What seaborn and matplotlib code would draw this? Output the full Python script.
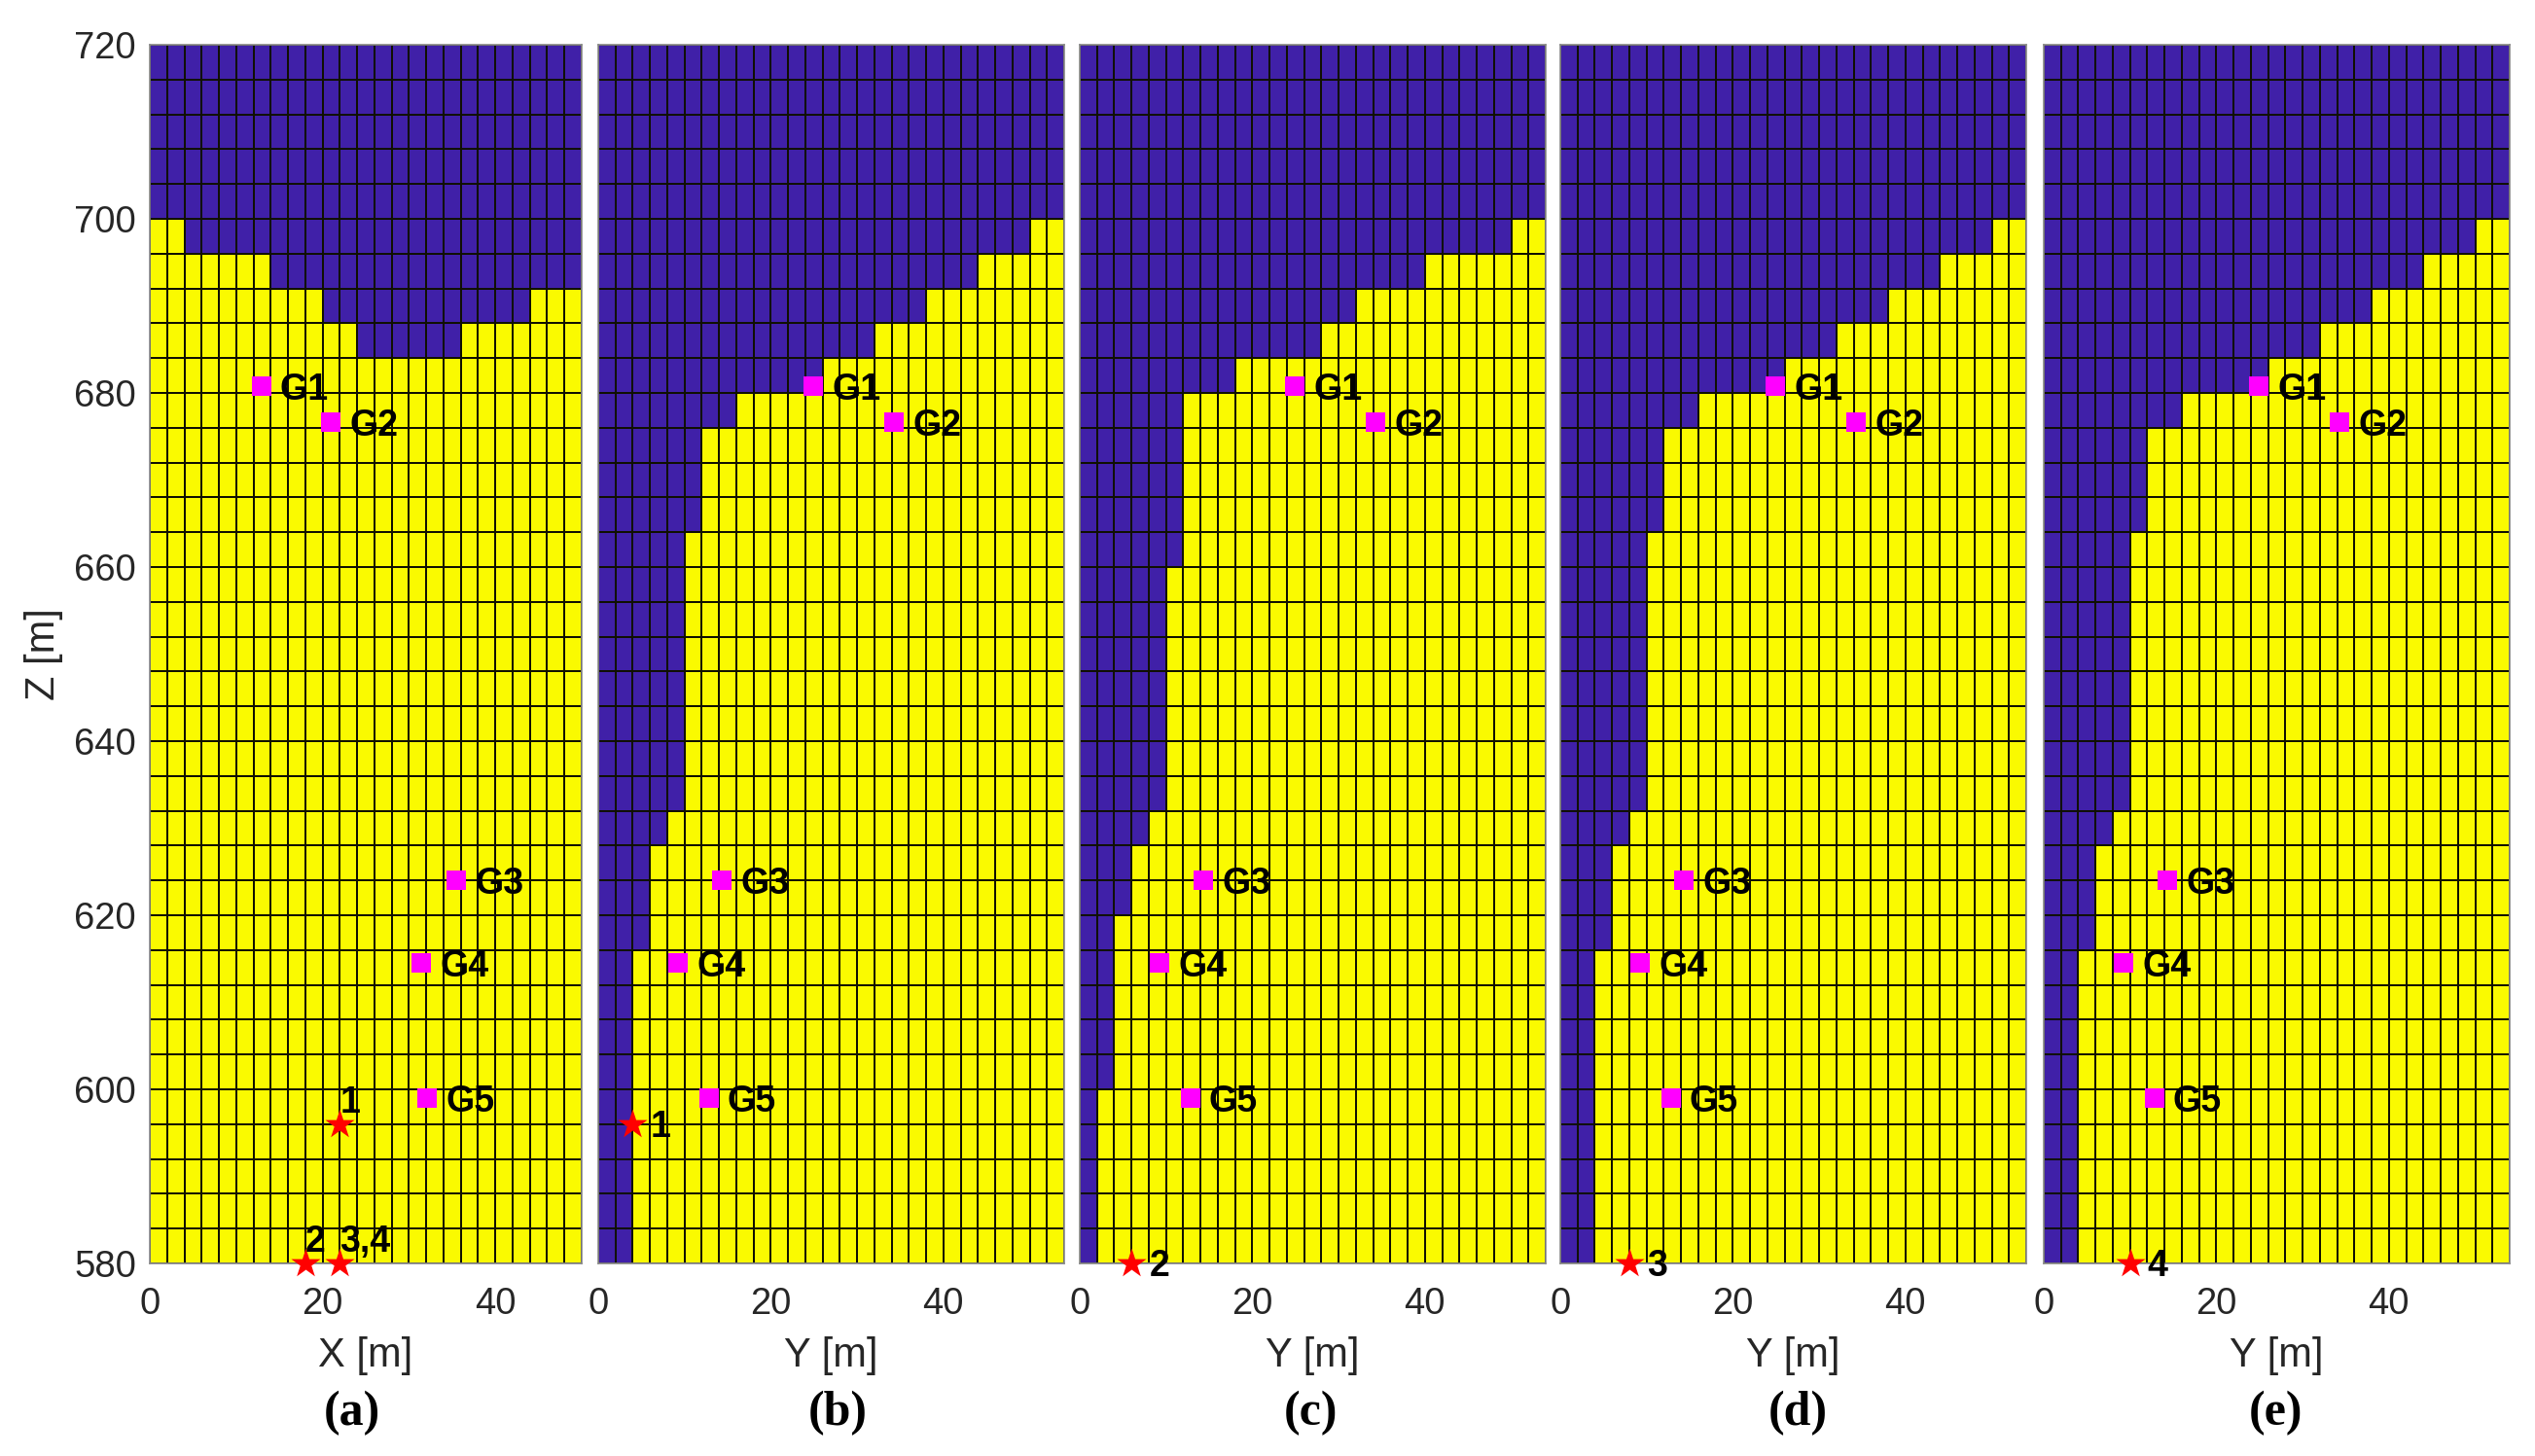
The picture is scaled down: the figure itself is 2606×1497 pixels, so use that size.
import numpy as np
import pandas as pd
import matplotlib
matplotlib.use("Agg")
import matplotlib.pyplot as plt
from matplotlib.colors import ListedColormap
import seaborn as sns

sns.set_style("white")
plt.rcParams['font.family'] = ['Liberation Sans', 'DejaVu Sans']

W, H = 2606, 1497
DX, DZ, ZTOP, ZBOT = 2, 4, 720, 580
BLUE, YELLOW, MAGENTA, RED = "#4020A8", "#FAFA00", "#FF00FF", "#FF0000"

# Top of the yellow medium (Z, m) for every 2 m column
top_a = [700]*2 + [696]*5 + [692]*3 + [688]*2 + [684]*6 + [688]*4 + [692]*3
top_b = [580]*2 + [616, 628, 632, 664] + [676]*2 + [680]*5 + [684]*3 + [688]*3 + [692]*3 + [696]*3 + [700]*2
top_c = [580, 600, 620, 628, 632, 660] + [680]*3 + [684]*5 + [688]*2 + [692]*4 + [696]*5 + [700]*2
top_d = [580]*2 + [616, 628, 632, 664] + [676]*2 + [680]*5 + [684]*3 + [688]*3 + [692]*3 + [696]*3 + [700]*2
top_e = [580]*2 + [616, 628, 632, 664] + [676]*2 + [680]*5 + [684]*3 + [688]*3 + [692]*3 + [696]*3 + [700]*2

geo_names = ["G1", "G2", "G3", "G4", "G5"]
geo_x = [12.9, 20.9, 35.5, 31.4, 32.1]
geo_y = [24.9, 34.3, 14.3, 9.3, 12.8]
geo_z = [680.8, 676.7, 624.0, 614.5, 599.0]

# sources per panel: (horizontal, Z, label, label offset in points)
src_a = [(22, 596, "1", (0, 15.5)), (18, 580, "2", (0, 15.5)), (22, 580, "3,4", (0, 15.5))]
src_b = [(4, 596, "1", (13, -2)) ]
src_c = [(6, 580, "2", (13, -2))]
src_d = [(8, 580, "3", (13, -2))]
src_e = [(10, 580, "4", (13, -2))]

panels = [
    (top_a, geo_x, src_a, "X [m]", "(a)", 154, 598, 362),
    (top_b, geo_y, src_b, "Y [m]", "(b)", 615, 1094, 861),
    (top_c, geo_y, src_c, "Y [m]", "(c)", 1110, 1589, 1348),
    (top_d, geo_y, src_d, "Y [m]", "(d)", 1604, 2083, 1848),
    (top_e, geo_y, src_e, "Y [m]", "(e)", 2101, 2580, 2340),
]
AX_TOP, AX_BOT = 46, 1299
xticks_m = [0, 20, 40]
zticks_m = [720, 700, 680, 660, 640, 620, 600, 580]

fig = plt.figure(figsize=(W/100, H/100), dpi=100, facecolor="white")
rows_z = np.arange(ZTOP - DZ, ZBOT - DZ, -DZ)

for i, (top, geo_h, srcs, xlab, tag, x0, x1, tagx) in enumerate(panels):
    ax = fig.add_axes([x0/W, 1 - AX_BOT/H, (x1-x0)/W, (AX_BOT-AX_TOP)/H])
    grid = pd.DataFrame({c*DX: (rows_z < t).astype(int) for c, t in enumerate(top)}, index=rows_z)
    sns.heatmap(grid, ax=ax, cmap=ListedColormap([BLUE, YELLOW]), vmin=0, vmax=1, cbar=False,
                linewidths=1.35, linecolor="#101000", xticklabels=False, yticklabels=False)
    ncol, nrow = grid.shape[1], grid.shape[0]

    hx = [h/DX for h in geo_h]
    vz = [(ZTOP - z)/DZ for z in geo_z]
    sns.scatterplot(x=hx, y=vz, ax=ax, marker="s", color=MAGENTA, s=215, linewidth=0, zorder=5, legend=False)
    for h, v, name in zip(hx, vz, geo_names):
        ax.annotate(name, (h, v), xytext=(14, -3), textcoords="offset points", fontsize=27,
                    fontweight="bold", color="black", ha="left", va="center", zorder=7)

    sx = [s[0]/DX for s in srcs]
    sz = [(ZTOP - s[1])/DZ for s in srcs]
    sns.scatterplot(x=sx, y=sz, ax=ax, marker="*", color=RED, s=520, linewidth=0, zorder=6,
                    legend=False, clip_on=False)
    for h, v, s in zip(sx, sz, srcs):
        ax.annotate(s[2], (h, v), xytext=s[3], textcoords="offset points", fontsize=27,
                    fontweight="bold", color="black", ha="left", va="center", zorder=7,
                    annotation_clip=False)

    ax.set_xlim(0, ncol)
    ax.set_ylim(nrow, 0)
    ax.set_xticks([m/DX for m in xticks_m])
    ax.set_xticklabels([str(m) for m in xticks_m], rotation=0)
    ax.tick_params(axis="both", length=0, labelsize=27.5, labelcolor="#262626")
    ax.tick_params(axis="x", pad=17)
    ax.set_xlabel(xlab, fontsize=30, color="#262626", labelpad=11, visible=True)
    if i == 0:
        ax.set_yticks([(ZTOP - z)/DZ for z in zticks_m])
        ax.set_yticklabels([str(z) for z in zticks_m], rotation=0)
        ax.tick_params(axis="y", pad=10)
        ax.set_ylabel("Z [m]", fontsize=30, color="#262626", labelpad=8, visible=True)
    else:
        ax.set_yticks([])
        ax.set_ylabel("")
    for sp in ax.spines.values():
        sp.set_visible(True)
        sp.set_color("#8a8a8a")
        sp.set_linewidth(1.2)
    fig.text(tagx/W, 1 - 1453/H, tag, fontsize=36, fontweight="bold", family="Liberation Serif",
             ha="center", va="center", color="black")

fig.savefig("out.png", dpi=100, facecolor="white")
